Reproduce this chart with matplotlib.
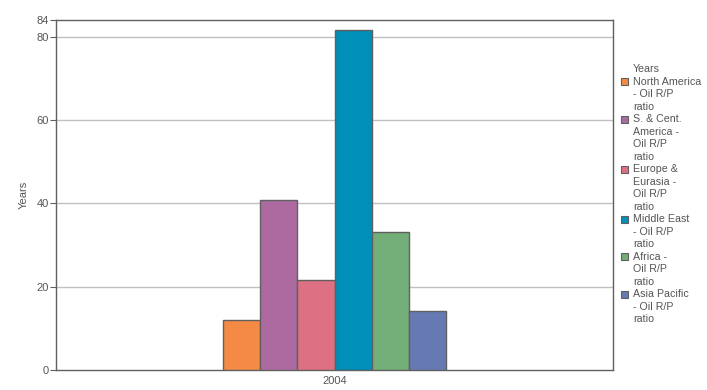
import matplotlib
matplotlib.use("Agg")
import matplotlib.pyplot as plt
from matplotlib.patches import Rectangle
import numpy as np

# data
year = "2004"
regions = ["North America\n- Oil R/P\nratio",
           "S. & Cent.\nAmerica -\nOil R/P\nratio",
           "Europe &\nEurasia -\nOil R/P\nratio",
           "Middle East\n- Oil R/P\nratio",
           "Africa -\nOil R/P\nratio",
           "Asia Pacific\n- Oil R/P\nratio"]
rp_years = [11.9, 40.8, 21.6, 81.6, 33.1, 14.2]
colors = ["#F58A45", "#AD6AA0", "#DE7083", "#008FB8", "#73AE78", "#6779B3"]

plt.rcParams['font.family'] = ['Liberation Sans', 'DejaVu Sans']
txt = "#555555"
edge = "#606060"
W, H = 707, 390

fig = plt.figure(figsize=(7.07, 3.9), dpi=100)
ax = fig.add_axes([56/W, 20/H, 557/W, 350/H])

w = 0.0668
n = len(rp_years)
xs = (np.arange(n) - (n - 1) / 2) * w
bars = ax.bar(xs, rp_years, width=w, color=colors, edgecolor=edge, linewidth=1, zorder=3)

ax.set_xlim(-0.5, 0.5)
ax.set_ylim(0, 84)
ax.set_yticks([0, 20, 40, 60, 80, 84])
ax.set_xticks([0])
ax.set_xticklabels([year])
ax.tick_params(axis='x', length=0, labelsize=8, colors=txt, pad=4)
ax.tick_params(axis='y', length=4, labelsize=8, colors=txt, pad=1, color=edge)
for v in [20, 40, 60, 80]:
    ax.axhline(v, color="#C0C0C0", linewidth=1, zorder=1)
for s in ax.spines.values():
    s.set_color(edge)
    s.set_linewidth(1)
ax.set_ylabel("Years", fontsize=8, color=txt, labelpad=6)

# legend drawn by hand so the swatch sits on the first line of each label
line_h = 12.5
y = 69.3
fig.text(633/W, 1 - y/H, "Years", fontsize=7.7, color=txt, va="center", ha="left")
for lab, c in zip(regions, colors):
    y += line_h
    fig.patches.append(Rectangle((621/W, 1 - (y + 3.5)/H), 7/W, 7/H,
                                 transform=fig.transFigure, facecolor=c,
                                 edgecolor=edge, linewidth=0.8))
    for i, part in enumerate(lab.split("\n")):
        fig.text(633/W, 1 - (y + i*line_h)/H, part, fontsize=7.7, color=txt,
                 va="center", ha="left")
    y += line_h * (len(lab.split("\n")) - 1)

fig.savefig("out.png", dpi=100)
